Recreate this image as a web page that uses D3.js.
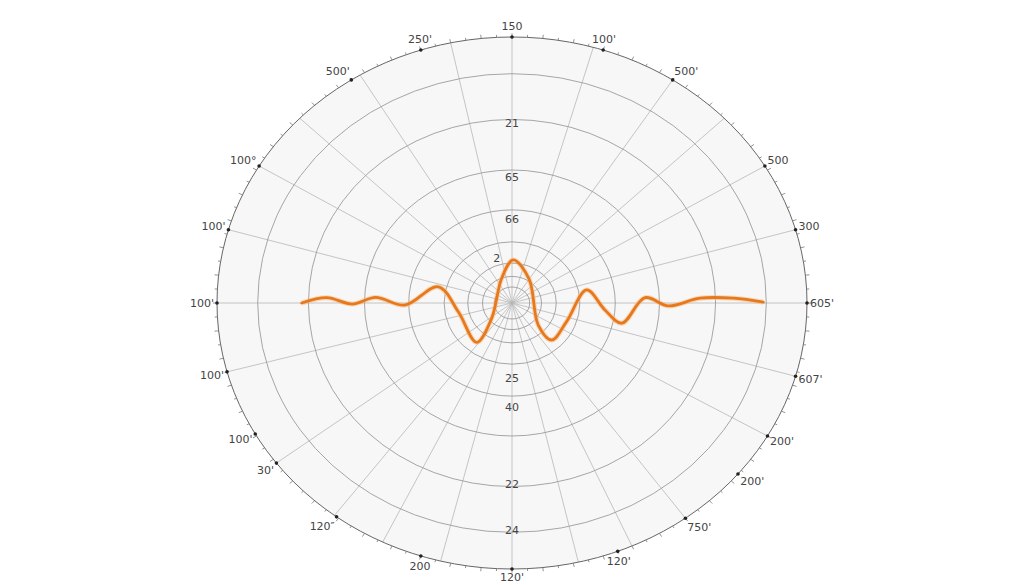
<!DOCTYPE html>
<html>
<head>
<meta charset="utf-8">
<script src="https://cdn.jsdelivr.net/npm/d3@7"></script>
<style>
  body { margin: 0; background: #fff; }
  svg { display: block; }
  .lbl { font-family: "DejaVu Sans", sans-serif; font-size: 11px; fill: #444; }
</style>
</head>
<body>
<svg></svg>
<script>
// labels round the rim, and the angle (deg, 0 = right, counter-clockwise) they sit at
var outerLabels = ["150","100'","500'","500","300","605'","607'","200'","200'","750'","120'","120'","200","120\u2033","30'","100'","100'","100'","100'","100\u00b0","500'","250'"];
var outerAngles = [90,72,57,31,16,0,-16,-30,-40,-54,-69,-90,-108,-126.5,-143,-150.5,-165,180,164,149,123,108];

// spokes of the grid
var spokeAngles = [0,16,31,44,57,74,90,102,121,136,149,164,180,195,217,233,244,256,270,283,294,306,330,344];

// rings, as a share of the outer radius
var ringValues = [0.862,0.69,0.50,0.35,0.23,0.15,0.10,0.06];

// labels written on the vertical axis
var ringLabels = ["21","65","66","2","25","40","22","24"];
var ringLabelValues = [0.677,0.474,0.316,0.177,0.282,0.391,0.68,0.853];
var ringLabelAngles = [90,90,90,107,270,270,270,270];

// the orange wave across the horizontal diameter
var waveX = [-0.713,-0.628,-0.541,-0.462,-0.363,-0.250,-0.182,-0.120,-0.069,-0.035,0.004,0.058,0.089,0.135,0.185,0.253,0.315,0.372,0.451,0.530,0.637,0.750,0.852];
var waveY = [0.000,0.020,-0.004,0.021,-0.008,0.061,-0.033,-0.148,-0.058,0.093,0.162,0.090,-0.083,-0.139,-0.070,0.049,-0.026,-0.076,0.020,-0.011,0.018,0.018,0.003];

var width = 1024, height = 585;
var cx = 512, cy = 303, rx = 295, ry = 266;

var svg = d3.select("svg").attr("width", width).attr("height", height);

// the picture is a little squashed, so x and y get their own radius scale
var sx = d3.scaleLinear().domain([-1, 1]).range([cx - rx, cx + rx]);
var sy = d3.scaleLinear().domain([-1, 1]).range([cy + ry, cy - ry]);

function pt(angle, r) {
    var a = angle * Math.PI / 180;
    return [sx(r * Math.cos(a)), sy(r * Math.sin(a))];
}

// disc
svg.append("ellipse")
    .attr("cx", cx).attr("cy", cy)
    .attr("rx", rx).attr("ry", ry)
    .attr("fill", "#f7f7f7");

// spokes
svg.append("g")
    .selectAll(null)
    .data(spokeAngles)
    .enter()
    .append("line")
    .attr("x1", cx).attr("y1", cy)
    .attr("x2", function(d) { return pt(d, 1)[0]; })
    .attr("y2", function(d) { return pt(d, 1)[1]; })
    .attr("stroke", "#b8b8b8")
    .attr("stroke-width", 0.8);

// rings
svg.append("g")
    .selectAll(null)
    .data(ringValues)
    .enter()
    .append("ellipse")
    .attr("cx", cx).attr("cy", cy)
    .attr("rx", function(d) { return sx(d) - cx; })
    .attr("ry", function(d) { return cy - sy(d); })
    .attr("fill", "none")
    .attr("stroke", "#9c9c9c")
    .attr("stroke-width", 0.9);

// outer rim
svg.append("ellipse")
    .attr("cx", cx).attr("cy", cy)
    .attr("rx", rx).attr("ry", ry)
    .attr("fill", "none")
    .attr("stroke", "#666")
    .attr("stroke-width", 1);

// small ticks on the rim
var tickAngles = d3.range(0, 360, 3);
svg.append("g")
    .selectAll(null)
    .data(tickAngles)
    .enter()
    .append("line")
    .attr("x1", function(d) { return pt(d, 1)[0]; })
    .attr("y1", function(d) { return pt(d, 1)[1]; })
    .attr("x2", function(d, i) { return pt(d, i % 2 ? 1.009 : 1.014)[0]; })
    .attr("y2", function(d, i) { return pt(d, i % 2 ? 1.009 : 1.014)[1]; })
    .attr("stroke", "#777")
    .attr("stroke-width", 0.8);

// black marks where the rim labels are
svg.append("g")
    .selectAll(null)
    .data(outerAngles)
    .enter()
    .append("circle")
    .attr("cx", function(d) { return pt(d, 1)[0]; })
    .attr("cy", function(d) { return pt(d, 1)[1]; })
    .attr("r", 1.8)
    .attr("fill", "#222");

// rim labels
svg.append("g")
    .selectAll(null)
    .data(outerLabels)
    .enter()
    .append("text")
    .attr("class", "lbl")
    .attr("x", function(d, i) {
        var a = outerAngles[i] * Math.PI / 180;
        return pt(outerAngles[i], 1)[0] + 3 * Math.cos(a);
    })
    .attr("y", function(d, i) {
        var a = outerAngles[i] * Math.PI / 180;
        var y = pt(outerAngles[i], 1)[1] - 11 * Math.sin(a);
        return Math.min(y, height - 8);   // keep the bottom one on the page
    })
    .attr("dy", "0.35em")
    .attr("text-anchor", function(d, i) {
        var c = Math.cos(outerAngles[i] * Math.PI / 180);
        if (c > 0.45) return "start";
        if (c < -0.45) return "end";
        return "middle";
    })
    .text(function(d) { return d; });

// axis labels inside the disc
svg.append("g")
    .selectAll(null)
    .data(ringLabels)
    .enter()
    .append("text")
    .attr("class", "lbl")
    .attr("x", function(d, i) { return pt(ringLabelAngles[i], ringLabelValues[i])[0]; })
    .attr("y", function(d, i) { return pt(ringLabelAngles[i], ringLabelValues[i])[1]; })
    .attr("dy", "0.35em")
    .attr("text-anchor", "middle")
    .text(function(d) { return d; });

// wave
var waveData = waveX.map(function(x, i) { return [x, waveY[i]]; });
var line = d3.line()
    .x(function(d) { return sx(d[0]); })
    .y(function(d) { return sy(d[1]); })
    .curve(d3.curveCatmullRom.alpha(0.5));

svg.append("path")
    .attr("d", line(waveData))
    .attr("fill", "none")
    .attr("stroke", "#f6b980")
    .attr("stroke-width", 5)
    .attr("stroke-opacity", 0.5);

svg.append("path")
    .attr("d", line(waveData))
    .attr("fill", "none")
    .attr("stroke", "#e8781c")
    .attr("stroke-width", 2.8)
    .attr("stroke-linecap", "round");
</script>
</body>
</html>
